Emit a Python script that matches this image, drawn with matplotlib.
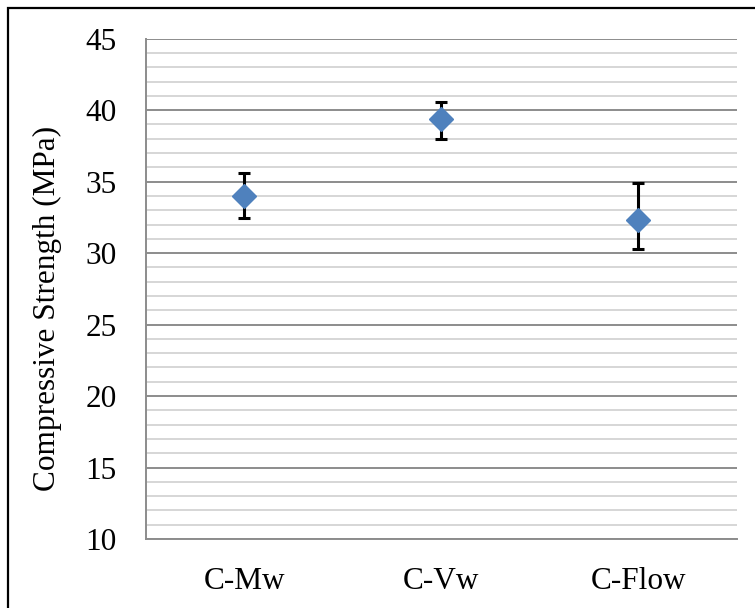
import matplotlib
matplotlib.use('Agg')
import matplotlib.pyplot as plt
from matplotlib.patches import Rectangle
from matplotlib.ticker import MultipleLocator

# data
mixes = ['C-Mw', 'C-Vw', 'C-Flow']
strength = [34.0, 39.35, 32.35]
err_low = [1.52, 1.38, 2.03]
err_high = [1.59, 1.23, 2.57]

plt.rcParams['font.family'] = ['Liberation Serif', 'DejaVu Serif']

fig = plt.figure(figsize=(7.55, 6.08), dpi=100)
ax = fig.add_axes([145.7 / 755, 1 - 539 / 608, (736.7 - 145.7) / 755, (539 - 38.7) / 608])

x = list(range(len(mixes)))
ax.errorbar(x, strength, yerr=[err_low, err_high], fmt='none', ecolor='black',
            elinewidth=2.2, capsize=4, capthick=2.2, zorder=3)
ax.plot(x, strength, linestyle='none', marker='D', markersize=12.5,
        color='#4f81bd', markeredgecolor='#4f81bd', zorder=4)

ax.set_xlim(-0.5, 2.5)
ax.set_ylim(10, 45)
ax.set_xticks(x)
ax.set_xticklabels(mixes)
ax.yaxis.set_major_locator(MultipleLocator(5))
ax.yaxis.set_minor_locator(MultipleLocator(1))
ax.grid(which='minor', axis='y', color='#d0d0d0', linewidth=1.2)
ax.grid(which='major', axis='y', color='#8c8c8c', linewidth=1.4)
ax.set_axisbelow(True)

ax.tick_params(axis='both', which='both', length=0, labelsize=22.5, colors='black')
ax.tick_params(axis='y', pad=21)
ax.tick_params(axis='x', pad=20)

for side in ['top', 'right']:
    ax.spines[side].set_visible(False)
for side in ['left', 'bottom']:
    ax.spines[side].set_color('#8c8c8c')
    ax.spines[side].set_linewidth(1.4)

ax.set_ylabel('Compressive Strength (MPa)', fontsize=22.5)
ax.yaxis.set_label_coords(-0.142, 0.46)

# outer chart border like the Excel chart area
fig.patches.append(Rectangle((8 / 755, -0.05), 1.1, 1 - 8 / 608 + 0.05,
                             transform=fig.transFigure, fill=False,
                             edgecolor='black', linewidth=1.6))

fig.savefig('out.png', dpi=100)
